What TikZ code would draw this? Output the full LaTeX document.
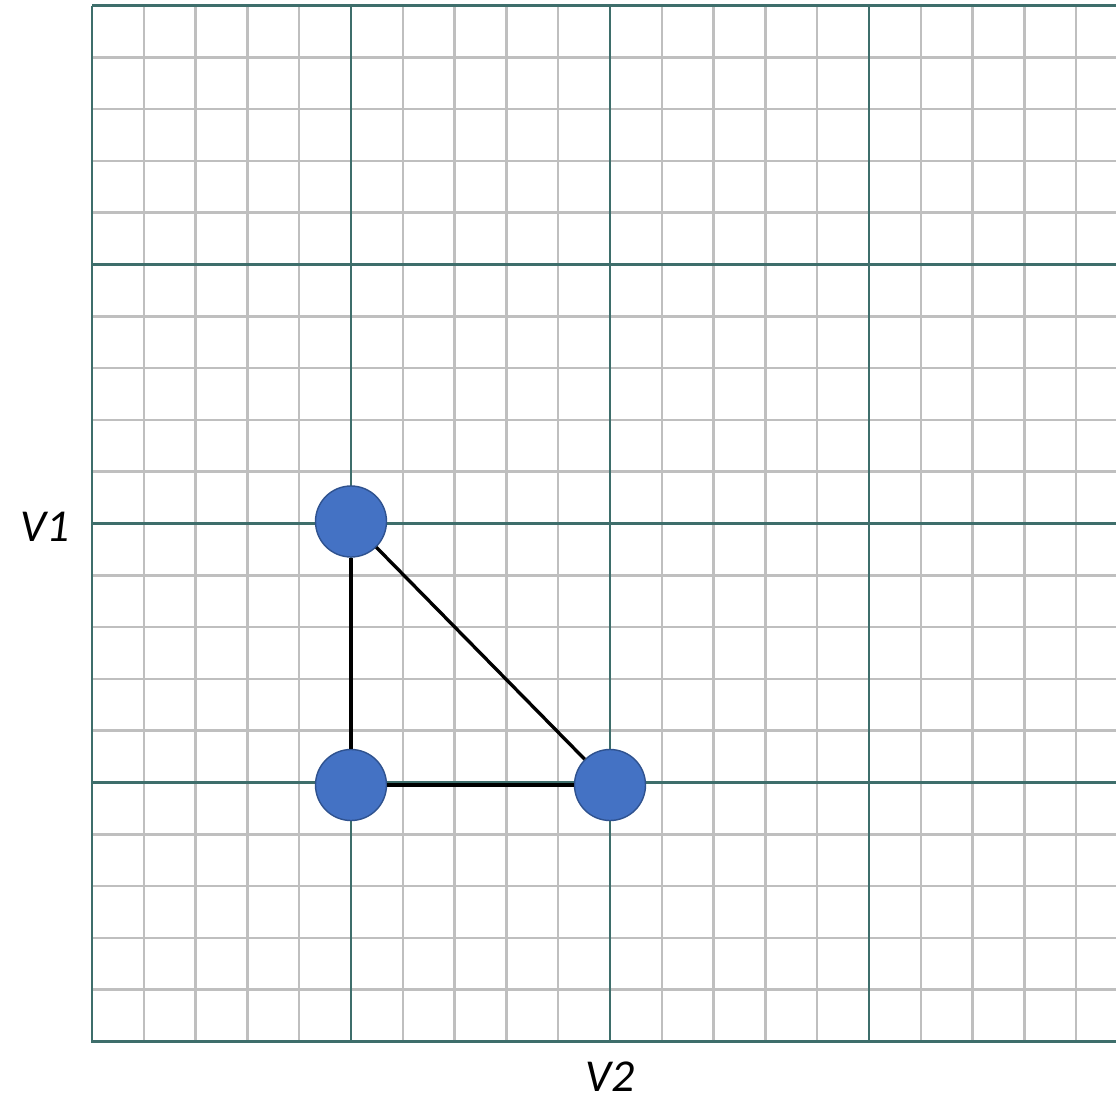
\documentclass[tikz,border=0pt]{standalone}
\usepackage{fontspec}
\setmainfont{Carlito}
\definecolor{minorgray}{HTML}{BFBFBF}
\definecolor{majorteal}{HTML}{3E6E6B}
\definecolor{dotfill}{HTML}{4472C4}
\definecolor{dotedge}{HTML}{2F528F}
\begin{document}
\begin{tikzpicture}[x=0.02cm,y=-0.02cm,
  minorline/.style={draw=minorgray,line width=1.4pt},
  majorline/.style={draw=majorteal,line width=1.3pt},
  vertex/.style={circle,fill=dotfill,draw=dotedge,line width=0.8pt,minimum size=71*0.02cm,inner sep=0pt},
  edgeline/.style={draw=black,line width=1.9pt},
  axislabel/.style={font=\fontsize{26}{30}\selectfont\itshape,inner sep=0pt}]
\useasboundingbox (0,0) rectangle (1116,1102);
\begin{scope}
\clip (0,0) rectangle (1116,1102);
% minor lines
\foreach \k in {1,...,24}{
  \pgfmathtruncatemacro{\m}{mod(\k,5)}
  \ifnum\m>0
    \draw[minorline] ({92+\k*51.8},5.5) -- ({92+\k*51.8},1041.5);
    \ifnum\k<20
      \draw[minorline] (92,{5.5+\k*51.8}) -- (1120,{5.5+\k*51.8});
    \fi
  \fi
}
% major lines
\foreach \k in {0,...,4}{
  \draw[majorline] ({92+\k*259},5.5) -- ({92+\k*259},1041.5);
  \draw[majorline] (92,{5.5+\k*259}) -- (1120,{5.5+\k*259});
}
\draw[majorline,line width=1.7pt] (92,5.5) -- (92,1041.5) -- (1120,1041.5);
\end{scope}
% vertices
\node[vertex] (a) at (351,521.5) {};
\node[vertex] (b) at (351,785) {};
\node[vertex] (c) at (610,785) {};
\draw[edgeline] (a) -- (b);
\draw[edgeline,line width=2.2pt] (b) -- (c);
\draw[edgeline] (a) -- (c);
% labels
\node[axislabel] (v1) at (45,527) {V1};
\node[axislabel] (v2) at (610,1077) {V2};
\end{tikzpicture}
\end{document}
